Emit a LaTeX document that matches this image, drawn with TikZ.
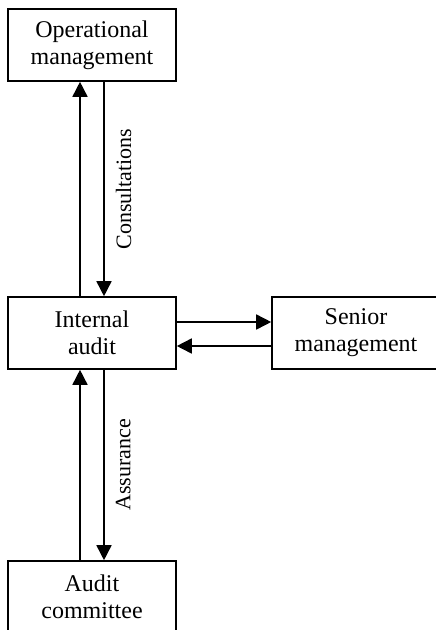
\documentclass[tikz,border=0pt]{standalone}
\usepackage{fontspec}
\setmainfont{Liberation Serif}
\usetikzlibrary{arrows.meta,positioning}

\begin{document}
\begin{tikzpicture}[x=1pt,y=1pt,
  unit/.style={draw,line width=1.6pt,minimum width=168pt,minimum height=72pt,align=center,inner sep=0pt,font=\fontsize{24}{27}\selectfont},
  flow/.style={-{Triangle[length=15pt,width=15pt]},line width=1.6pt},
  tag/.style={rotate=90,anchor=north,inner sep=11pt,font=\fontsize{22}{25}\selectfont}]
  \useasboundingbox (0,0) rectangle (436,-630);
  \clip (0,0) rectangle (436,-630);
  % Units
  \node[unit] (ops) at (92,-45) {Operational\\management};
  \node[unit] (ia) at (92,-333) {Internal\\audit};
  \node[unit] (senior) at (356,-333) {Senior\\management};
  \node[unit] (ac) at (92,-597) {Audit\\committee};
  % Internal audit <-> operational management
  \draw[flow] ([xshift=-12pt]ia.north) -- ([xshift=-12pt]ops.south);
  \draw[flow] ([xshift=12pt]ops.south) -- ([xshift=12pt]ia.north)
    node[midway,tag] {Consultations};
  % Internal audit <-> senior management
  \draw[flow] ([yshift=11pt]ia.east) -- ([yshift=11pt]senior.west);
  \draw[flow] ([yshift=-13pt]senior.west) -- ([yshift=-13pt]ia.east);
  % Internal audit <-> audit committee
  \draw[flow] ([xshift=-12pt]ac.north) -- ([xshift=-12pt]ia.south);
  \draw[flow] ([xshift=12pt]ia.south) -- ([xshift=12pt]ac.north)
    node[midway,tag] {Assurance};
\end{tikzpicture}
\end{document}
